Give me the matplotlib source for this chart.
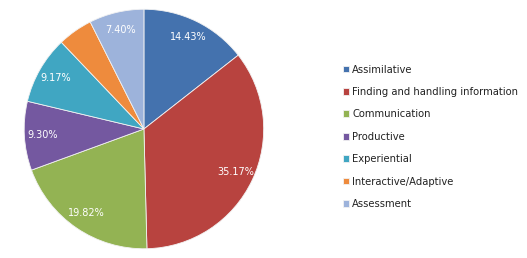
import matplotlib
matplotlib.use("Agg")
import matplotlib.pyplot as plt

categories = ["Assimilative", "Finding and handling information", "Communication",
              "Productive", "Experiential", "Interactive/Adaptive", "Assessment"]
values = [14.43, 35.17, 19.82, 9.30, 9.17, 4.71, 7.40]
shown = ["14.43%", "35.17%", "19.82%", "9.30%", "9.17%", "", "7.40%"]
colors = ["#4472AE", "#B8433F", "#93B353", "#7458A0", "#40A6C2", "#EE8B3D", "#9DB3DB"]

fig = plt.figure(figsize=(5.27, 2.58), dpi=100)
ax = fig.add_axes([0.0436, 0.031, 0.459, 0.938])

wedges, texts = ax.pie(values, labels=shown, colors=colors, startangle=90,
                       counterclock=False, labeldistance=0.85,
                       wedgeprops=dict(edgecolor="#f2f2f2", linewidth=0.6),
                       textprops=dict(color="white", fontsize=7))
for t in texts:
    t.set_ha("center")
    t.set_va("center")
ax.set_xlim(-1.01, 1.01)
ax.set_ylim(-1.01, 1.01)
ax.set_aspect("equal")

fig.legend(wedges, categories, loc="center left", bbox_to_anchor=(0.633, 0.47),
           frameon=False, fontsize=7.2, handlelength=0.65, handleheight=0.65,
           handletextpad=0.3, labelspacing=1.24, labelcolor="#222222")

fig.savefig("out.png", dpi=100)
